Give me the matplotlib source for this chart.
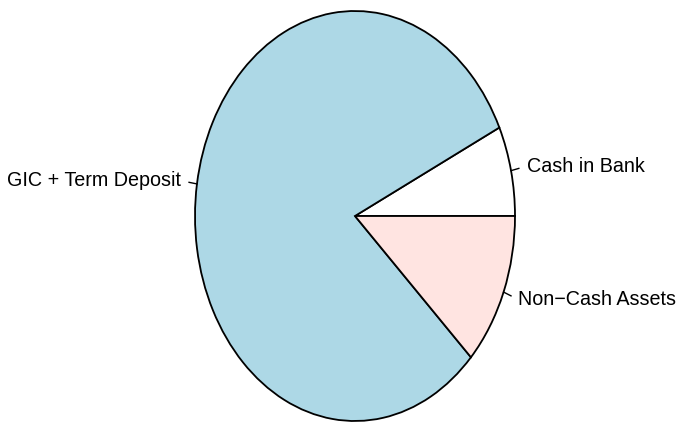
import numpy as np
import matplotlib
matplotlib.use("Agg")
from matplotlib import pyplot as plt

# Data
labels = ["Cash in Bank", "GIC + Term Deposit", "Non\u2212Cash Assets"]
shares = [7.1, 80.8, 12.1]
colors = ["white", "lightblue", "mistyrose"]

plt.rcParams['font.family'] = ['Liberation Sans', 'DejaVu Sans']

W, H = 678, 424
cx, cy = 355, 216      # pie centre in pixels
rx, ry = 160, 205      # stretched radius (the picture is squashed)

fig = plt.figure(figsize=(W / 100, H / 100), dpi=100)
ax = fig.add_axes([0, 0, 1, 1])

wedges, _ = ax.pie(shares, colors=colors, startangle=0, counterclock=True,
                   wedgeprops=dict(edgecolor="black", linewidth=1.3))

# R-style labels: short tick then text
for w, lab in zip(wedges, labels):
    mid = np.deg2rad((w.theta1 + w.theta2) / 2)
    c, s = np.cos(mid), np.sin(mid)
    ax.plot([c, 1.05 * c], [s, 1.05 * s], color="black", lw=1)
    ax.text(1.1 * c, 1.1 * s, lab, ha="left" if c > 0 else "right",
            va="center", fontsize=14.2)

ax.set_aspect("auto")
ax.set_xlim(-cx / rx, (W - cx) / rx)
ax.set_ylim(-(H - cy) / ry, cy / ry)
ax.axis("off")

fig.savefig("out.png", dpi=100)
